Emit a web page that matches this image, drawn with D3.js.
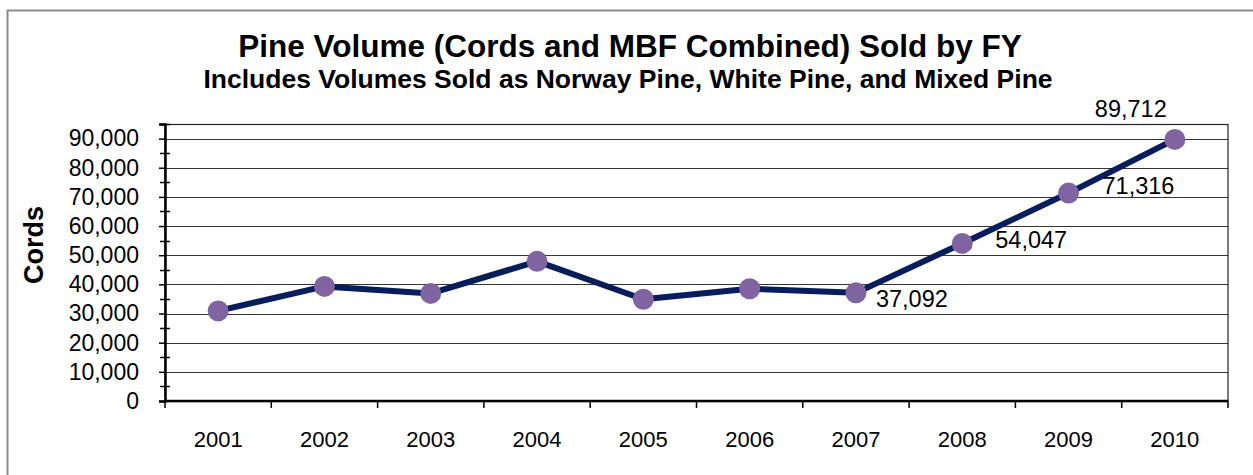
<!DOCTYPE html>
<html>
<head>
<meta charset="utf-8">
<script src="https://d3js.org/d3.v7.min.js"></script>
<style>
  body { margin: 0; background: #fff; }
  text { font-family: "Liberation Sans", Arial, sans-serif; fill: #000; }
</style>
</head>
<body>
<svg id="chart" width="1253" height="475"></svg>
<script>
var years = ["2001", "2002", "2003", "2004", "2005", "2006", "2007", "2008", "2009", "2010"]; // categories
var cords = [30900, 39300, 36900, 47900, 34900, 38500, 37092, 54047, 71316, 89712]; // pine volume sold
var labelled = ["2007", "2008", "2009", "2010"]; // points with a value label
var yTicks = [0, 10000, 20000, 30000, 40000, 50000, 60000, 70000, 80000, 90000];

var svg = d3.select("#chart");
var margin = {left: 165, top: 124, right: 25, bottom: 74}; // plot area inside the window
var width = 1253 - margin.left - margin.right;
var height = 475 - margin.top - margin.bottom;

// outer chart frame (only top and left edges show in the window)
svg.append("rect")
    .attr("x", 7.5).attr("y", 10.5)
    .attr("width", 1300).attr("height", 500)
    .attr("fill", "none")
    .attr("stroke", "#8c8c8c")
    .attr("stroke-width", 2);

// titles
svg.append("text")
    .attr("x", 630).attr("y", 57)
    .attr("text-anchor", "middle")
    .style("font-size", "31.5px").style("font-weight", "bold")
    .text("Pine Volume (Cords and MBF Combined) Sold by FY");
svg.append("text")
    .attr("x", 628).attr("y", 88)
    .attr("text-anchor", "middle")
    .style("font-size", "26.5px").style("font-weight", "bold")
    .text("Includes Volumes Sold as Norway Pine, White Pine, and Mixed Pine");

var chartGroup = svg.append("g").attr("transform", `translate(${margin.left}, ${margin.top})`);

var xScale = d3.scaleBand().domain(years).range([0, width]); // category bands
var yScale = d3.scaleLinear().domain([0, 95000]).range([height, 0]);

// gridlines
chartGroup.append("g").selectAll("line")
    .data(yTicks.filter(d => d > 0))
    .enter()
    .append("line")
    .attr("x1", 0).attr("x2", width)
    .attr("y1", d => Math.round(yScale(d)) + 0.5)
    .attr("y2", d => Math.round(yScale(d)) + 0.5)
    .attr("stroke", "#333")
    .attr("stroke-width", 1.2);

// plot frame
chartGroup.append("rect")
    .attr("x", 0).attr("y", 0.5)
    .attr("width", width).attr("height", height)
    .attr("fill", "none")
    .attr("stroke", "#222")
    .attr("stroke-width", 1.2);

// minor ticks crossing the y axis
chartGroup.append("g").selectAll("line")
    .data(d3.range(5000, 95001, 10000))
    .enter()
    .append("line")
    .attr("x1", -5).attr("x2", 5)
    .attr("y1", d => Math.round(yScale(d)) + 0.5)
    .attr("y2", d => Math.round(yScale(d)) + 0.5)
    .attr("stroke", "#000")
    .attr("stroke-width", 1.5);

// y axis
var leftAxis = d3.axisLeft(yScale)
    .tickValues(yTicks)
    .tickSize(6)
    .tickPadding(20)
    .tickFormat(d3.format(","));
var yAxis = chartGroup.append("g").call(leftAxis);
yAxis.select(".domain").attr("stroke", "#000").attr("stroke-width", 2.5);
yAxis.selectAll(".tick line").attr("stroke", "#000").attr("stroke-width", 1.5);
yAxis.selectAll(".tick text")
    .style("font-family", "'Liberation Sans', Arial, sans-serif")
    .style("font-size", "23px")
    .attr("fill", "#000");

// x axis: ticks sit between categories
var xAxis = chartGroup.append("g").attr("transform", `translate(0, ${height})`);
xAxis.append("line")
    .attr("x1", 0).attr("x2", width)
    .attr("stroke", "#000").attr("stroke-width", 2.5);
xAxis.selectAll("line.tk")
    .data(years.concat(["end"]))
    .enter()
    .append("line")
    .attr("class", "tk")
    .attr("x1", (d, i) => i * xScale.bandwidth())
    .attr("x2", (d, i) => i * xScale.bandwidth())
    .attr("y1", 0).attr("y2", 7)
    .attr("stroke", "#000").attr("stroke-width", 1.5);
xAxis.selectAll("text")
    .data(years)
    .enter()
    .append("text")
    .attr("x", d => xScale(d) + xScale.bandwidth() / 2)
    .attr("y", 46)
    .attr("text-anchor", "middle")
    .style("font-size", "22px")
    .text(d => d);

// y axis title
svg.append("text")
    .attr("transform", "translate(43, 245) rotate(-90)")
    .attr("text-anchor", "middle")
    .style("font-size", "27px").style("font-weight", "bold")
    .text("Cords");

// series line
var line = d3.line()
    .x((d, i) => xScale(years[i]) + xScale.bandwidth() / 2)
    .y(d => yScale(d));
chartGroup.append("path")
    .datum(cords)
    .attr("d", line)
    .attr("fill", "none")
    .attr("stroke", "#071d5c")
    .attr("stroke-width", 6)
    .attr("stroke-linejoin", "round");

// markers
chartGroup.append("g").selectAll("circle")
    .data(cords)
    .enter()
    .append("circle")
    .attr("cx", (d, i) => xScale(years[i]) + xScale.bandwidth() / 2)
    .attr("cy", d => yScale(d))
    .attr("r", 10.5)
    .attr("fill", "#8064a2");

// value labels
var labelOffset = {"2007": [20, 14], "2008": [33, 5], "2009": [34, 1], "2010": [-80, -22]};
chartGroup.append("g").selectAll("text")
    .data(labelled)
    .enter()
    .append("text")
    .attr("x", d => xScale(d) + xScale.bandwidth() / 2 + labelOffset[d][0])
    .attr("y", d => yScale(cords[years.indexOf(d)]) + labelOffset[d][1])
    .style("font-size", "23.5px")
    .text(d => d3.format(",")(cords[years.indexOf(d)]));
</script>
</body>
</html>
